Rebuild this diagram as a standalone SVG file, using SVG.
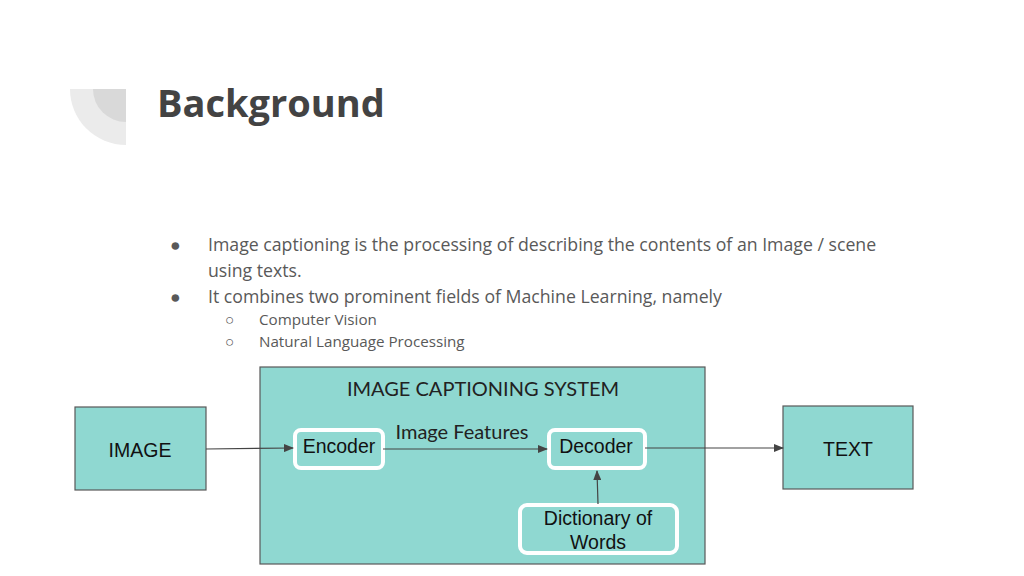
<svg xmlns="http://www.w3.org/2000/svg" width="1024" height="576" viewBox="0 0 1024 576">
<style>
.title{font-family:"Open Sans",sans-serif;font-weight:bold;font-size:38px;fill:#434343}
.bl{font-family:"Open Sans","Noto Sans",sans-serif;font-size:17.7px;fill:#595959}
.sb{font-family:"Open Sans","Noto Sans",sans-serif;font-size:15.2px;fill:#595959}
.box{fill:#8fd8d1;stroke:#595959;stroke-width:1.2}
.inner{fill:none;stroke:#ffffff;stroke-width:4}
.t{font-family:"Liberation Sans",Arial,sans-serif;font-size:19.5px;fill:#111;text-anchor:middle}
.tl{font-family:Lato,"Noto Sans",sans-serif;font-size:20px;fill:#222;text-anchor:middle}
.c{stroke:#444;stroke-width:1.2;fill:none;marker-end:url(#ah)}
</style>
<defs>
<marker id="ah" markerWidth="10" markerHeight="8" refX="9" refY="4" orient="auto" markerUnits="userSpaceOnUse">
<path d="M0,0 L10,4 L0,8 Z" fill="#444"/>
</marker>
</defs>
<rect width="1024" height="576" fill="#ffffff"/>
<g id="deco">
<path d="M70,89 H126 V145 A56,56 0 0 1 70,89 Z" fill="#ebebeb"/>
<path d="M93,89 H126 V122 A33,33 0 0 1 93,89 Z" fill="#d9d9d9"/>
</g>
<text class="title" x="157" y="117">Background</text>
<g id="bullets">
<text class="bl" x="170" y="251">●</text>
<text class="bl" x="208" y="251">Image captioning is the processing of describing the contents of an Image / scene</text>
<text class="bl" x="208" y="277">using texts.</text>
<text class="bl" x="170" y="303">●</text>
<text class="bl" x="208" y="303">It combines two prominent fields of Machine Learning, namely</text>
<text class="sb" x="225" y="325">○</text>
<text class="sb" x="259" y="325">Computer Vision</text>
<text class="sb" x="225" y="347">○</text>
<text class="sb" x="259" y="347">Natural Language Processing</text>
</g>
<g id="system">
<rect class="box" x="260" y="367" width="445" height="197"/>
<text class="tl" x="483" y="396">IMAGE CAPTIONING SYSTEM</text>
</g>
<g id="image">
<rect class="box" x="75" y="407" width="131" height="83"/>
<text class="t" x="140" y="457">IMAGE</text>
</g>
<g id="text">
<rect class="box" x="783" y="406" width="130" height="83"/>
<text class="t" x="848" y="456">TEXT</text>
</g>
<g id="encoder">
<rect class="inner" x="295" y="430" width="88" height="38" rx="6"/>
<text class="t" x="339" y="453">Encoder</text>
</g>
<g id="decoder">
<rect class="inner" x="549" y="430" width="96" height="38" rx="6"/>
<text class="t" x="596" y="453">Decoder</text>
</g>
<g id="dictionary">
<rect class="inner" x="520" y="505" width="157" height="48" rx="7"/>
<text class="t" x="598" y="525">Dictionary of</text>
<text class="t" x="598" y="549">Words</text>
</g>
<g id="connectors">
<line class="c" x1="206" y1="449" x2="293" y2="448"/>
<line class="c" x1="383" y1="449" x2="547" y2="449"/>
<text class="tl" x="462" y="439">Image Features</text>
<line class="c" x1="645" y1="448" x2="783" y2="448"/>
<line class="c" x1="598" y1="504" x2="597" y2="471"/>
</g>
</svg>
